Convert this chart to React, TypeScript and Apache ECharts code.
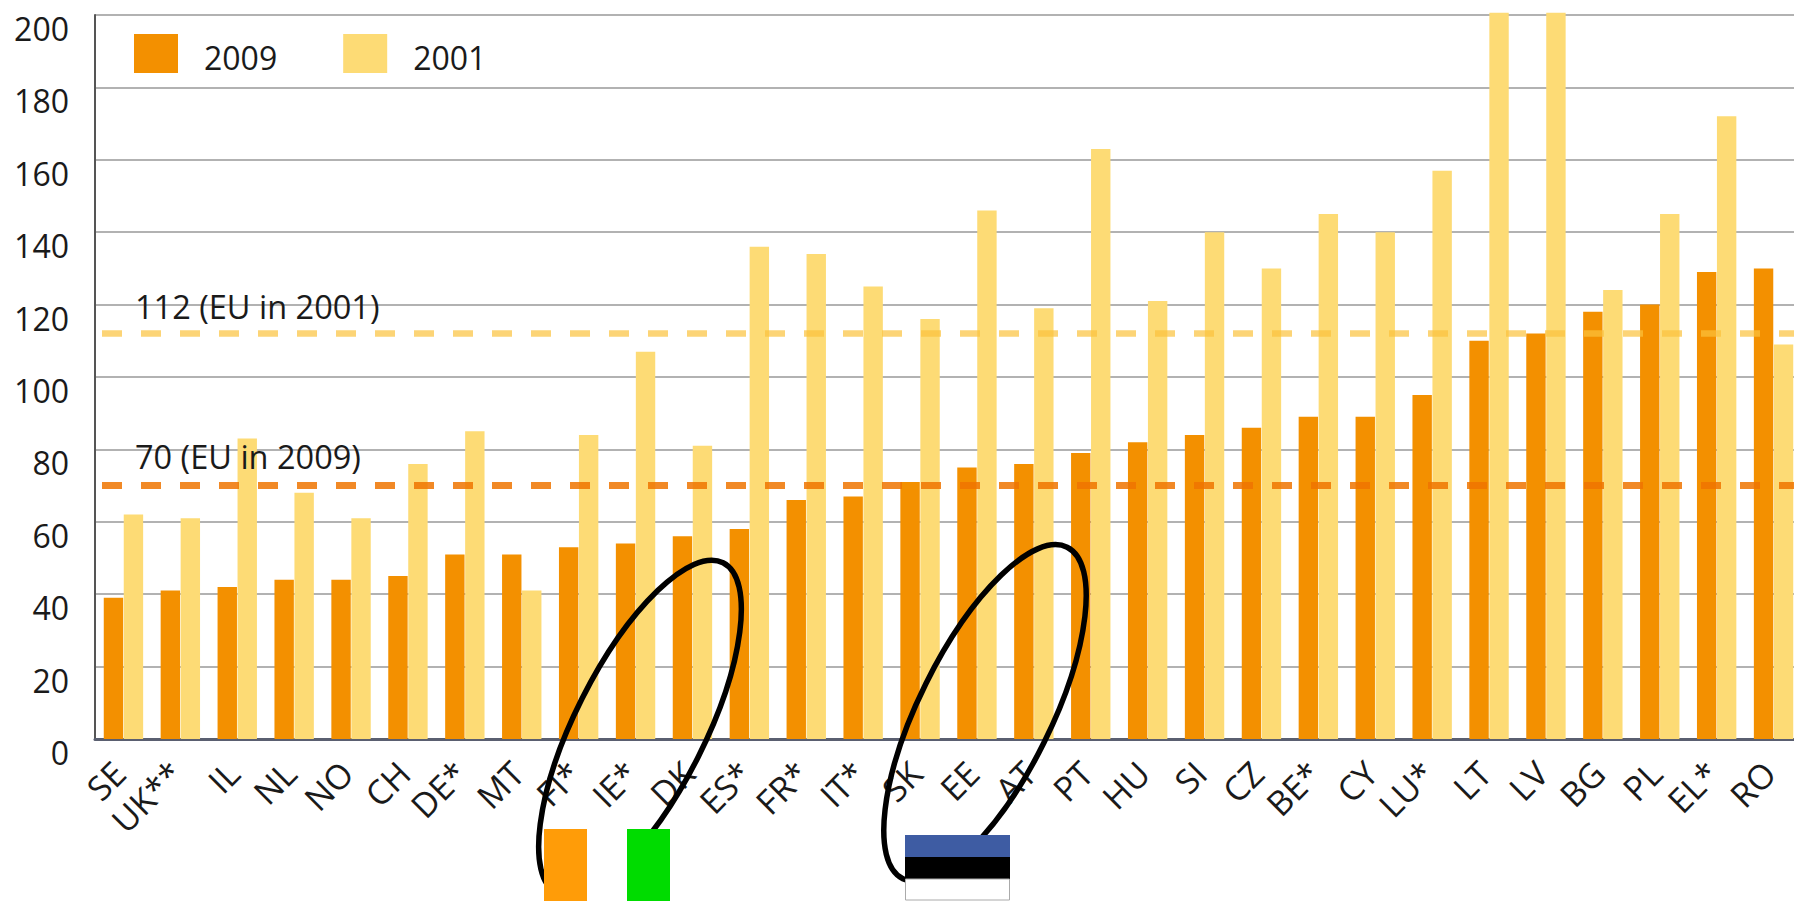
import React, { useEffect, useRef } from "react";
import * as echarts from "echarts";

const categories = ["SE","UK**","IL","NL","NO","CH","DE*","MT","FI*","IE*","DK","ES*","FR*","IT*","SK","EE","AT","PT","HU","SI","CZ","BE*","CY","LU*","LT","LV","BG","PL","EL*","RO"];
const values2009 = [39,41,42,44,44,45,51,51,53,54,56,58,66,67,71,75,76,79,82,84,86,89,89,95,110,112,118,120,129,130];
const values2001 = [62,61,83,68,61,76,85,41,84,107,81,136,134,125,116,146,119,163,121,140,130,145,140,157,200.6,200.6,124,145,172,109];
const eu2001 = 112;
const eu2009 = 70;
const ORANGE = "#f39000";
const YELLOW = "#fddb75";

function markLine(value: number, color: string, label: string, opacity: number, width: number, labelRaise: number) {
  return {
    silent: true,
    symbol: "none",
    animation: false,
    data: [{ yAxis: value }],
    lineStyle: { color, width, opacity, type: [20, 19], dashOffset: 32, cap: "butt" },
    emphasis: { disabled: true },
    label: {
      show: true,
      position: "insideStartTop",
      distance: [40, labelRaise],
      formatter: label,
      color: "#1a1a1a",
      opacity: 1,
      fontFamily: "Open Sans",
      fontSize: 32.5,
    },
  };
}

export default function App() {
  const ref = useRef<HTMLDivElement>(null);
  useEffect(() => {
    const chart = echarts.init(ref.current!, null, { renderer: "svg" });
    chart.setOption({
      animation: false,
      backgroundColor: "#fff",
      textStyle: { fontFamily: "Open Sans" },
      grid: { left: 95, top: 15, width: 1707, height: 724, containLabel: false },
      legend: {
        left: 129,
        top: 29,
        itemWidth: 44,
        itemHeight: 39,
        itemGap: 66,
        icon: "rect",
        data: ["2009", "2001"],
        formatter: "{t|{name}}",
        textStyle: {
          fontSize: 32,
          color: "#1a1a1a",
          fontFamily: "Open Sans",
          rich: { t: { fontSize: 32, color: "#1a1a1a", fontFamily: "Open Sans", padding: [7, 0, 0, 21] } },
        },
      },
      xAxis: {
        type: "category",
        data: categories,
        axisTick: { show: false },
        axisLine: { show: true, onZero: false, lineStyle: { color: "#5a5f70", width: 3 } },
        axisLabel: { interval: 0, rotate: 45, margin: 24, fontSize: 34, color: "#1a1a1a", fontFamily: "Open Sans", padding: [0, 6, 0, 0] },
      },
      yAxis: {
        type: "value",
        min: 0,
        max: 200,
        interval: 20,
        axisTick: { show: false },
        axisLine: { show: true, lineStyle: { color: "#555", width: 2 } },
        splitLine: { show: true, lineStyle: { color: "#b2b2b2", width: 2 } },
        axisLabel: { margin: 26, fontSize: 32, color: "#1a1a1a", fontFamily: "Open Sans", verticalAlign: "top", lineHeight: 27 },
      },
      series: [
        {
          name: "2009",
          type: "bar",
          data: values2009,
          barWidth: 19.4,
          barGap: "3%",
          clip: false,
          itemStyle: { color: ORANGE },
          markLine: markLine(eu2009, "#ef7400", `${eu2009} (EU in 2009)`, 0.85, 7, 13),
        },
        {
          name: "2001",
          type: "bar",
          data: values2001,
          barWidth: 19.4,
          barGap: "3%",
          clip: false,
          itemStyle: { color: YELLOW },
          markLine: markLine(eu2001, "#fbc23c", `${eu2001} (EU in 2001)`, 0.7, 6.5, 11),
        },
      ],
      graphic: [
        { type: "ellipse", z: 100, shape: { cx: 0, cy: 0, rx: 65, ry: 185 }, x: 640, y: 728, rotation: -0.466, style: { fill: "none", stroke: "#000", lineWidth: 5.5 } },
        { type: "ellipse", z: 100, shape: { cx: 0, cy: 0, rx: 66, ry: 185 }, x: 985, y: 713, rotation: -0.46, style: { fill: "none", stroke: "#000", lineWidth: 5.5 } },
        { type: "rect", z: 101, shape: { x: 544, y: 829, width: 44, height: 72 }, style: { fill: "#ff9c08" } },
        { type: "rect", z: 101, shape: { x: 587, y: 829, width: 40, height: 72 }, style: { fill: "#fff" } },
        { type: "rect", z: 101, shape: { x: 627, y: 829, width: 43, height: 72 }, style: { fill: "#00dc00" } },
        { type: "rect", z: 101, shape: { x: 905, y: 835, width: 105, height: 22 }, style: { fill: "#3e5ca3" } },
        { type: "rect", z: 101, shape: { x: 905, y: 857, width: 105, height: 22 }, style: { fill: "#000" } },
        { type: "rect", z: 101, shape: { x: 905.5, y: 879, width: 104, height: 21 }, style: { fill: "#fff", stroke: "#aaa", lineWidth: 1 } },
      ],
    });
    return () => chart.dispose();
  }, []);
  return (
    <div style={{ position: "absolute", left: 0, top: 0, width: 1794, height: 901, overflow: "hidden" }}>
      <div ref={ref} style={{ width: 1802, height: 901 }} />
    </div>
  );
}
